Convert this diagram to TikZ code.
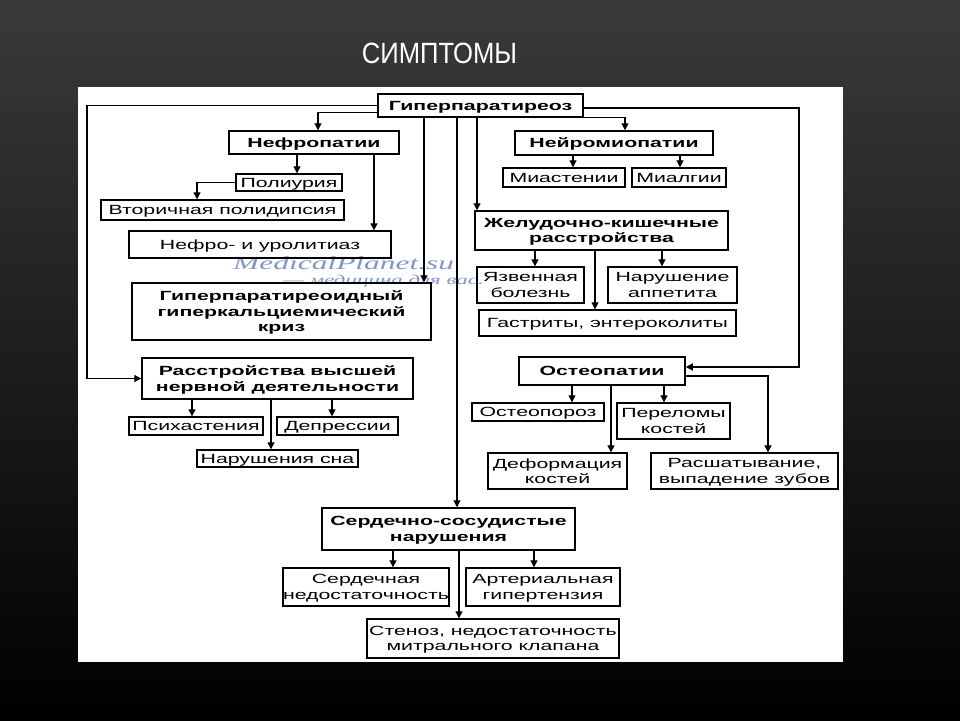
\documentclass[tikz,border=0pt]{standalone}
\usepackage{fontspec}
\setmainfont{Liberation Sans}[FakeStretch=1.6]
\newfontfamily\titlefont{Liberation Sans}[FakeStretch=0.875]
\newfontfamily\markfont{Liberation Serif}[FakeStretch=1.7]
\usetikzlibrary{arrows.meta}

\definecolor{bgtop}{RGB}{58,58,58}
\definecolor{bgmid}{RGB}{22,22,22}
\definecolor{markblue}{RGB}{95,125,190}

\tikzset{
    hbox/.style={draw, line width=1.5pt, inner sep=0pt, align=center,
        text depth=0pt, font=\fontsize{13.3}{15.5}\selectfont\bfseries},
    lbox/.style={draw, line width=1.4pt, inner sep=0pt, align=center,
        text depth=0pt, font=\fontsize{13.3}{15.5}\selectfont},
    arr/.style={-{Triangle[length=7pt,width=7pt]}, line width=1.2pt},
    wmark/.style={text=markblue, opacity=0.8, inner sep=0pt}
}

\begin{document}
\begin{tikzpicture}[x=1pt, y=-1pt]

    % slide background and white panel
    \useasboundingbox (0,0) rectangle (960,720);
    \shade[top color=bgtop, middle color=bgmid, bottom color=black] (0,0) rectangle (960,720);
    \fill[white] (78,87) rectangle (843,662);
    \node[text=white, font=\titlefont\fontsize{29.3}{32}\selectfont, inner sep=0pt] (title) at (439.5,53.5) {СИМПТОМЫ};

    % watermark
    \node[wmark, font=\markfont\itshape\fontsize{18.5}{20}\selectfont, anchor=base west] (marka) at (233,269) {MedicalPlanet.su};
    \node[wmark, font=\markfont\itshape\fontsize{13.5}{15}\selectfont, anchor=base east] (markb) at (484,284) {— медицина для вас.};

    % these are the boxes
    \node[hbox, minimum width=205, minimum height=23] (hyp) at (480.5,105.5) {Гиперпаратиреоз};

    \node[hbox, minimum width=170, minimum height=23] (nef) at (314,142.5) {Нефропатии};
    \node[lbox, minimum width=106, minimum height=17] (pol) at (289,182.5) {Полиурия};
    \node[lbox, minimum width=243, minimum height=20] (vtor) at (222.5,210) {Вторичная полидипсия};
    \node[lbox, minimum width=262, minimum height=27] (uro) at (260,244.5) {Нефро- и уролитиаз};
    \node[hbox, minimum width=299, minimum height=57] (kriz) at (281.5,311.5) {Гиперпаратиреоидный\\гиперкальциемический\\криз};

    \node[hbox, minimum width=271, minimum height=41] (vnd) at (277.5,378.5) {Расстройства высшей\\нервной деятельности};
    \node[lbox, minimum width=134, minimum height=18] (psi) at (196,426) {Психастения};
    \node[lbox, minimum width=121, minimum height=18] (dep) at (337.5,426) {Депрессии};
    \node[lbox, minimum width=161, minimum height=17] (son) at (277.5,458.5) {Нарушения сна};

    \node[hbox, minimum width=198, minimum height=24] (nmio) at (614,143) {Нейромиопатии};
    \node[lbox, minimum width=122, minimum height=19] (miast) at (564,177.5) {Миастении};
    \node[lbox, minimum width=94, minimum height=19] (mialg) at (679,177.5) {Миалгии};

    \node[hbox, minimum width=253, minimum height=39] (zhk) at (601.5,230.5) {Желудочно-кишечные\\расстройства};
    \node[lbox, minimum width=107, minimum height=36] (yazv) at (530.5,285) {Язвенная\\болезнь};
    \node[lbox, minimum width=129, minimum height=36] (appet) at (672.5,285) {Нарушение\\аппетита};
    \node[lbox, minimum width=257, minimum height=26] (gastr) at (607.5,323) {Гастриты, энтероколиты};

    \node[hbox, minimum width=166, minimum height=28] (osteo) at (602,371) {Остеопатии};
    \node[lbox, minimum width=132, minimum height=18] (opor) at (538,412) {Остеопороз};
    \node[lbox, minimum width=113, minimum height=36] (perel) at (673.5,421) {Переломы\\костей};
    \node[lbox, minimum width=139, minimum height=36] (deform) at (557.5,471) {Деформация\\костей};
    \node[lbox, minimum width=187, minimum height=36] (rassh) at (744.5,471) {Расшатывание,\\выпадение зубов};

    \node[hbox, minimum width=253, minimum height=42] (ss) at (448.5,529) {Сердечно-сосудистые\\нарушения};
    \node[lbox, minimum width=162, minimum height=38] (serd) at (366,587) {Сердечная\\недостаточность};
    \node[lbox, minimum width=154, minimum height=38] (art) at (543,587) {Артериальная\\гипертензия};
    \node[lbox, minimum width=252, minimum height=39] (sten) at (493,638.5) {Стеноз, недостаточность\\митрального клапана};

    % links from the top box
    \draw[arr] (hyp.west) -- (87,105.5) |- (vnd.west);
    \draw[arr] ([yshift=-7pt]hyp.west) -| ([xshift=4pt]nef.north);
    \draw[arr] ([xshift=-56.5pt]hyp.south) -- ([xshift=-56.5pt]hyp.south |- kriz.north);
    \draw[arr] ([xshift=-23.5pt]hyp.south) -- ([xshift=-23.5pt]hyp.south |- ss.north);
    \draw[arr] ([xshift=-3.5pt]hyp.south) -- ([xshift=-3.5pt]hyp.south |- zhk.north);
    \draw[arr] (hyp.south east) -| ([xshift=11pt]nmio.north);
    \draw[arr] ([yshift=-2.5pt]hyp.east) -- (799,108) |- ([yshift=4pt]osteo.east);

    % nephropathy
    \draw[arr] ([xshift=8pt]pol.north |- nef.south) -- ([xshift=8pt]pol.north);
    \draw[arr] (pol.west) -| ([xshift=-25.5pt]vtor.north);
    \draw[arr] ([xshift=60pt]nef.south) -- ([xshift=60pt]nef.south |- uro.north);

    % neuromyopathy
    \draw[arr] ([xshift=9pt]miast.north |- nmio.south) -- ([xshift=9pt]miast.north);
    \draw[arr] ([xshift=1pt]mialg.north |- nmio.south) -- ([xshift=1pt]mialg.north);

    % gastrointestinal
    \draw[arr] ([xshift=4.5pt]yazv.north |- zhk.south) -- ([xshift=4.5pt]yazv.north);
    \draw[arr] ([xshift=-10.5pt]appet.north |- zhk.south) -- ([xshift=-10.5pt]appet.north);
    \draw[arr] ([xshift=-12.5pt]gastr.north |- zhk.south) -- ([xshift=-12.5pt]gastr.north);

    % osteopathy
    \draw[arr] ([xshift=34pt]opor.north |- osteo.south) -- ([xshift=34pt]opor.north);
    \draw[arr] ([xshift=-9.5pt]perel.north |- osteo.south) -- ([xshift=-9.5pt]perel.north);
    \draw[arr] ([xshift=53.5pt]deform.north |- osteo.south) -- ([xshift=53.5pt]deform.north);
    \draw[arr] ([yshift=-5pt]osteo.east) -| ([xshift=23.5pt]rassh.north);

    % higher nervous activity
    \draw[arr] ([xshift=-4pt]psi.north |- vnd.south) -- ([xshift=-4pt]psi.north);
    \draw[arr] ([xshift=-5.5pt]dep.north |- vnd.south) -- ([xshift=-5.5pt]dep.north);
    \draw[arr] ([xshift=-6.5pt]son.north |- vnd.south) -- ([xshift=-6.5pt]son.north);

    % cardiovascular
    \draw[arr] ([xshift=27pt]serd.north |- ss.south) -- ([xshift=27pt]serd.north);
    \draw[arr] ([xshift=-9pt]art.north |- ss.south) -- ([xshift=-9pt]art.north);
    \draw[arr] ([xshift=-34pt]sten.north |- ss.south) -- ([xshift=-34pt]sten.north);

\end{tikzpicture}
\end{document}
